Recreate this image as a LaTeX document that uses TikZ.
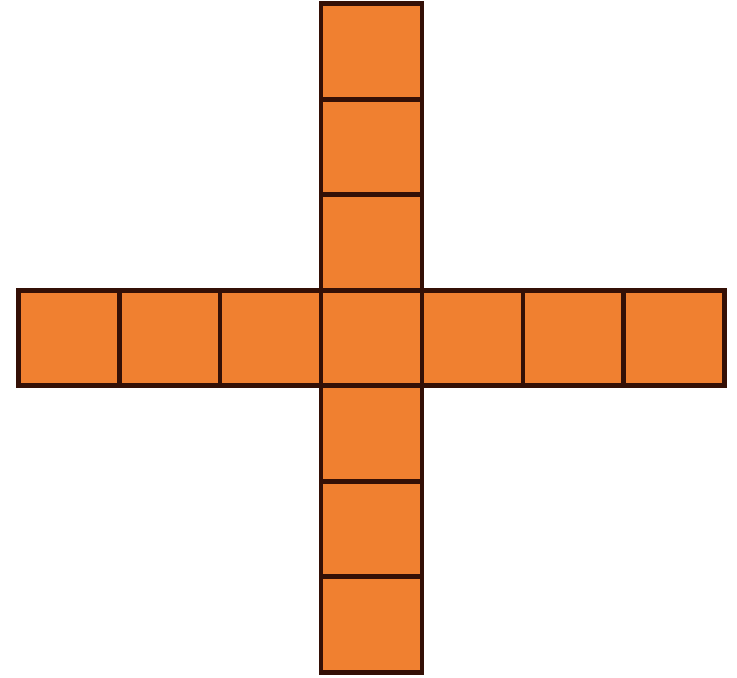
\documentclass[tikz,border=0pt]{standalone}
\usepackage{tikz}
\usetikzlibrary{positioning}

\definecolor{tileorange}{RGB}{240,128,48}
\definecolor{tileedge}{RGB}{52,16,6}

\begin{document}
\begin{tikzpicture}[
  x=0.02cm, y=-0.02cm,
  node distance=0pt and 0pt,
  tile/.style={draw=tileedge, fill=tileorange, line width=2.8pt, outer sep=0pt, inner sep=0pt, minimum width=2.02cm, minimum height=1.91cm}
]
\useasboundingbox (0,0) rectangle (737,678);
\node[tile] (mid) at (371.5,338) {};
% column
\node[tile, above=of mid] (n1) {};
\node[tile, above=of n1] (n2) {};
\node[tile, above=of n2] (n3) {};
\node[tile, below=of mid] (s1) {};
\node[tile, below=of s1] (s2) {};
\node[tile, below=of s2] (s3) {};
% row
\node[tile, left=of mid] (w1) {};
\node[tile, left=of w1] (w2) {};
\node[tile, left=of w2] (w3) {};
\node[tile, right=of mid] (e1) {};
\node[tile, right=of e1] (e2) {};
\node[tile, right=of e2] (e3) {};
\end{tikzpicture}
\end{document}
